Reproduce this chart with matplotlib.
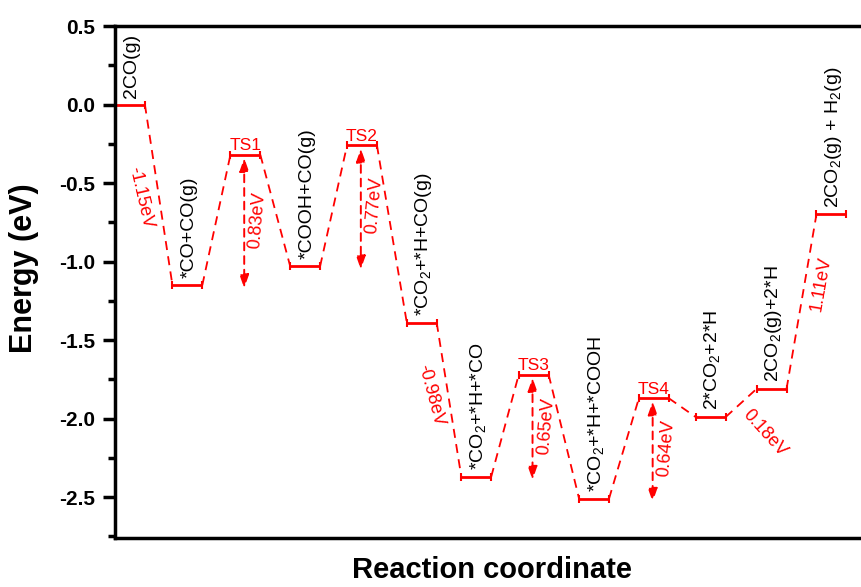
import numpy as np
import matplotlib.pyplot as plt

plt.rcParams['font.family'] = ['Liberation Sans', 'DejaVu Sans']
plt.rcParams['mathtext.fontset'] = 'custom'
plt.rcParams['mathtext.rm'] = 'Liberation Sans'
plt.rcParams['mathtext.it'] = 'Liberation Sans'

# energy levels along the pathway (eV)
species = ['2CO(g)', '*CO+CO(g)', 'TS1', '*COOH+CO(g)', 'TS2',
           '*CO$_2$+*H+CO(g)', '*CO$_2$+*H+*CO', 'TS3',
           '*CO$_2$+*H+*COOH', 'TS4', '2*CO$_2$+2*H',
           '2CO$_2$(g)+2*H', '2CO$_2$(g) + H$_2$(g)']
energy = [0.0, -1.15, -0.32, -1.03, -0.26, -1.39, -2.37, -1.72,
          -2.51, -1.87, -1.99, -1.81, -0.70]
pos = [0, 0.98, 1.97, 2.99, 3.96, 4.98, 5.91, 6.89, 7.92, 8.94, 9.91, 10.95, 11.97]

# barriers: TS index, label, height
barrier_ts = [2, 4, 7, 9]
barrier_txt = ['0.83eV', '0.77eV', '0.65eV', '0.64eV']
barrier_val = [0.83, 0.77, 0.65, 0.64]

# reaction steps: from index, label
step_idx = [0, 5, 10, 11]
step_txt = ['-1.15eV', '-0.98eV', '0.18eV', '1.11eV']

w = 0.51
red = '#ff0000'

fig = plt.figure(figsize=(8.62, 5.87), dpi=100)
ax = fig.add_axes([115/862, 49/587, 753/862, 512/587])

for i, (x, e) in enumerate(zip(pos, energy)):
    ax.plot([x, x + w], [e, e], color=red, lw=2, solid_capstyle='butt')
    ax.plot([x, x + w], [e, e], ls='none', marker='|',
            ms=6, mew=1.5, color=red)
    if i < len(pos) - 1:
        ax.plot([x + w, pos[i + 1]], [e, energy[i + 1]], color=red,
                lw=1.3, ls=(0, (5, 3.5)))
    if species[i].startswith('TS'):
        ax.annotate(species[i], (x + w / 2, e), xytext=(0, 1),
                    textcoords='offset points', ha='center', va='bottom',
                    color=red, fontsize=12.5)
    else:
        ax.annotate(species[i], (x + w / 2 + 0.03, e), xytext=(0, 5),
                    textcoords='offset points', ha='center', va='bottom',
                    rotation=90, color='black', fontsize=14)

for ts, txt, b in zip(barrier_ts, barrier_txt, barrier_val):
    xc = pos[ts] + w / 2 - 0.02
    top = energy[ts]
    bot = top - b
    ax.annotate('', xy=(xc, bot - 0.02), xytext=(xc, top - 0.02),
                arrowprops=dict(arrowstyle='<|-|>,head_length=0.8,head_width=0.28',
                                color=red, lw=1.4, ls=(0, (4, 3)),
                                shrinkA=0, shrinkB=0))
    ax.text(xc + 0.23, (top + bot) / 2, txt, rotation=85, color=red,
            fontsize=13, ha='center', va='center')

step_off = [(-0.31, -0.02), (-0.31, 0.03), (0.4, -0.19), (0.33, 0.11)]
step_rot = [-77, -75, -48, 80]
for i, txt, (dx, dy), r in zip(step_idx, step_txt, step_off, step_rot):
    xm = (pos[i] + w + pos[i + 1]) / 2
    ym = (energy[i] + energy[i + 1]) / 2
    ax.text(xm + dx, ym + dy, txt, rotation=r, color=red, fontsize=13,
            ha='center', va='center', rotation_mode='anchor')

ax.set_xlim(0, 753 / 58.6)
ax.set_ylim(-2.76, 0.5)
ax.set_yticks(np.arange(-2.5, 0.51, 0.5))
ax.set_yticks(np.arange(-2.75, 0.5, 0.25), minor=True)
ax.set_yticklabels(['%.1f' % v for v in np.arange(-2.5, 0.51, 0.5)],
                   fontweight='bold', fontsize=15)
ax.set_xticks([])
ax.tick_params(axis='y', which='major', direction='out', length=9, width=2.5, pad=5)
ax.tick_params(axis='y', which='minor', direction='out', length=5, width=2.5)
for s in ax.spines.values():
    s.set_linewidth(2.5)

ax.set_ylabel('Energy (eV)', fontsize=22, fontweight='bold')
ax.yaxis.label.set_va('center')
ax.yaxis.set_label_coords((24 - 115) / 753, (538 - 268) / 512)
ax.set_xlabel('Reaction coordinate', fontsize=21, fontweight='bold')
ax.xaxis.label.set_va('baseline')
ax.xaxis.set_label_coords((492 - 115) / 753, (538 - 578) / 512)

fig.savefig('out.png', dpi=100)
